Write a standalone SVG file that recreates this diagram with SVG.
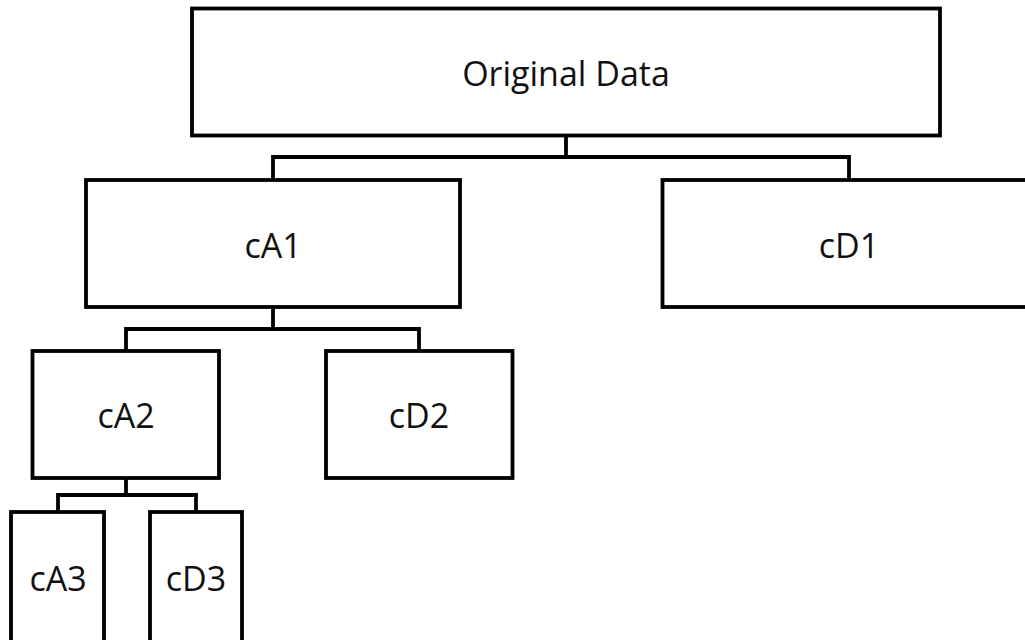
<svg xmlns="http://www.w3.org/2000/svg" width="1025" height="640" viewBox="0 0 1025 640">
<style>
.box{fill:#fff;stroke:#000;stroke-width:3.8}
.lbl{font-family:"Open Sans","Noto Sans","DejaVu Sans",sans-serif;font-size:34px;fill:#111;text-anchor:middle}
.con{fill:none;stroke:#000;stroke-width:3.8;stroke-linejoin:miter}
</style>
<rect width="1025" height="640" fill="#fff"/>
<g id="connectors">
<path class="con" d="M566,136 V157 M273,180 V157 H849 V180"/>
<path class="con" d="M273,307 V329 M126,351 V329 H419 V351"/>
<path class="con" d="M126,478 V495 M58,512 V495 H196 V512"/>
</g>
<g id="original"><rect class="box" x="192" y="8.5" width="748" height="127"/><text class="lbl" x="566" y="86">Original Data</text></g>
<g id="cA1"><rect class="box" x="86" y="180" width="374" height="127"/><text class="lbl" x="273" y="258">cA1</text></g>
<g id="cD1"><rect class="box" x="662.5" y="180" width="380" height="127"/><text class="lbl" x="849" y="258">cD1</text></g>
<g id="cA2"><rect class="box" x="32.5" y="351" width="186.5" height="127"/><text class="lbl" x="126" y="428">cA2</text></g>
<g id="cD2"><rect class="box" x="326" y="351" width="186.5" height="127"/><text class="lbl" x="419" y="428">cD2</text></g>
<g id="cA3"><rect class="box" x="11" y="512" width="93" height="140"/><text class="lbl" x="58" y="591">cA3</text></g>
<g id="cD3"><rect class="box" x="150" y="512" width="92" height="140"/><text class="lbl" x="196" y="591">cD3</text></g>
</svg>
